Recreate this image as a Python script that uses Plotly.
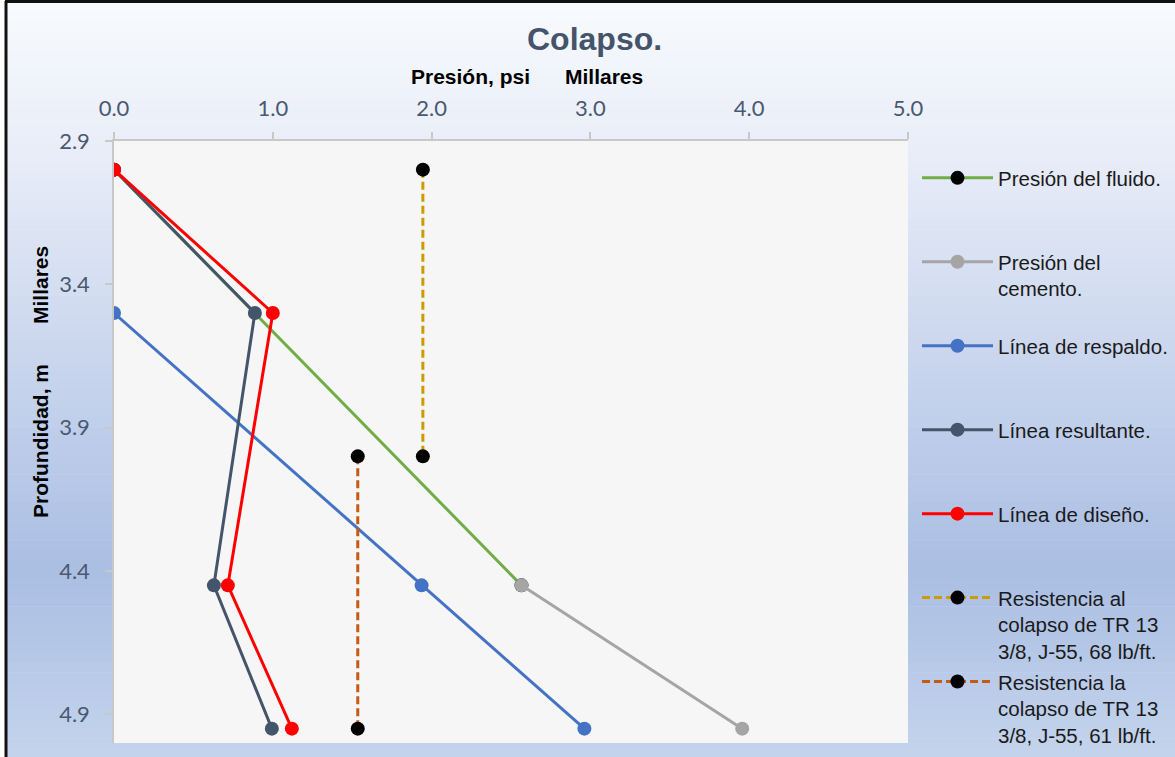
import numpy as np
import plotly.graph_objects as go

# ---- data (pressures in thousands psi, depths in thousands m) ----
fluido_x = [0.0, 2.566]
fluido_y = [3.0, 4.45]
cemento_x = [2.566, 3.956]
cemento_y = [4.45, 4.95]
respaldo_x = [0.0, 1.937, 2.962]
respaldo_y = [3.5, 4.45, 4.95]
resultante_x = [0.0, 0.887, 0.629, 0.994]
resultante_y = [3.0, 3.5, 4.45, 4.95]
diseno_x = [0.0, 1.0, 0.717, 1.12]
diseno_y = [3.0, 3.5, 4.45, 4.95]
res68_x = [1.945, 1.945]
res68_y = [3.0, 4.0]
res61_x = [1.535, 1.535]
res61_y = [4.0, 4.95]

names = [
    "Presión del fluido.",
    "Presión del<br>cemento.",
    "Línea de respaldo.",
    "Línea resultante.",
    "Línea de diseño.",
    "Resistencia al<br>colapso de TR 13<br>3/8, J-55, 68 lb/ft.",
    "Resistencia la<br>colapso de TR 13<br>3/8, J-55, 61 lb/ft.",
]

W, H = 1175, 757
L, R, T, B = 114, 908, 141, 743
pw, ph = R - L, B - T


def px(x):
    return (x - L) / pw


def py(y):
    return (B - y) / ph


def pad(n):
    k = n.count("<br>")
    return n + "<br>&nbsp;" * (2 - k)


fig = go.Figure()

series = [
    (fluido_x, fluido_y, "#70AD47", "#000000", "solid"),
    (cemento_x, cemento_y, "#A5A5A5", "#A5A5A5", "solid"),
    (respaldo_x, respaldo_y, "#4472C4", "#4472C4", "solid"),
    (resultante_x, resultante_y, "#44546A", "#44546A", "solid"),
    (diseno_x, diseno_y, "#FF0000", "#FF0000", "solid"),
    (res68_x, res68_y, "#CC9C00", "#000000", "8px,4px"),
    (res61_x, res61_y, "#C55A11", "#000000", "8px,4px"),
]
for i, (xs, ys, lc, mc, dash) in enumerate(series):
    fig.add_trace(go.Scatter(
        x=xs, y=ys, mode="lines+markers", name=pad(names[i]),
        legendgroup=f"g{i}",
        line=dict(color=lc, width=3, dash=dash),
        marker=dict(color=mc, size=14),
    ))

# background gradient bands
shapes = []
stops = [(0.0, (248, 250, 253)), (0.2, (232, 237, 248)), (0.75, (170, 190, 227)), (1.0, (196, 212, 236))]
n = 80
y0p, y1p = 3, H
for k in range(n):
    t = (k + 0.5) / n
    for j in range(len(stops) - 1):
        if stops[j][0] <= t <= stops[j + 1][0]:
            a, ca = stops[j]
            b, cb = stops[j + 1]
            f = (t - a) / (b - a)
            c = tuple(int(round(ca[m] + (cb[m] - ca[m]) * f)) for m in range(3))
            break
    ya = y0p + (y1p - y0p) * k / n
    yb = y0p + (y1p - y0p) * (k + 1) / n + 0.6
    shapes.append(dict(type="rect", xref="paper", yref="paper", layer="below",
                       x0=px(7), x1=px(W), y0=py(ya), y1=py(yb),
                       fillcolor=f"rgb{c}", line=dict(width=0)))
# plot area background
shapes.append(dict(type="rect", xref="paper", yref="paper", layer="below",
                   x0=0, x1=1, y0=0, y1=1, fillcolor="#F6F6F6", line=dict(width=0)))
# frame
shapes.append(dict(type="line", xref="paper", yref="paper", x0=px(6), x1=px(6),
                   y0=py(1), y1=py(H + 5), line=dict(color="#111111", width=3)))
shapes.append(dict(type="line", xref="paper", yref="paper", x0=px(5), x1=px(W + 5),
                   y0=py(1.5), y1=py(1.5), line=dict(color="#111111", width=3)))

ann_font = dict(family="Liberation Sans, Arial", size=21, color="#000000")
annotations = [
    dict(text="<b>Colapso.</b>", x=px(594), y=py(39), xref="paper", yref="paper",
         showarrow=False, xanchor="center", yanchor="middle",
         font=dict(family="Liberation Sans, Arial", size=32, color="#44546A")),
    dict(text="<b>Presión, psi</b>", x=px(470), y=py(77), xref="paper", yref="paper",
         showarrow=False, xanchor="center", yanchor="middle", font=ann_font),
    dict(text="<b>Millares</b>", x=px(604), y=py(77), xref="paper", yref="paper",
         showarrow=False, xanchor="center", yanchor="middle", font=ann_font),
    dict(text="<b>Profundidad, m</b>", x=px(40), y=py(441), xref="paper", yref="paper",
         showarrow=False, xanchor="center", yanchor="middle", textangle=-90, font=ann_font),
    dict(text="<b>Millares</b>", x=px(40), y=py(285), xref="paper", yref="paper",
         showarrow=False, xanchor="center", yanchor="middle", textangle=-90, font=ann_font),
]

tick_font = dict(family="Lato, Open Sans", size=22, color="#4A5870")
fig.update_layout(
    width=W, height=H,
    margin=dict(l=L, r=W - R, t=T, b=H - B, pad=0, autoexpand=False),
    paper_bgcolor="white", plot_bgcolor="rgba(0,0,0,0)",
    shapes=shapes, annotations=annotations,
    showlegend=True,
    legend=dict(x=px(917), y=py(158), xanchor="left", yanchor="top",
                traceorder="grouped", tracegroupgap=1, valign="top",
                itemwidth=71, bgcolor="rgba(0,0,0,0)", maxheight=745,
                font=dict(family="Liberation Sans, Arial", size=20.5, color="#1a1a1a")),
    xaxis=dict(side="top", range=[0, 5], dtick=1, tick0=0, tickformat=".1f",
               showgrid=False, zeroline=False, showline=True, linecolor="#C8C8C8",
               linewidth=1.5, ticks="outside", ticklen=7, tickcolor="#C8C8C8",
               tickwidth=1.5, ticklabelstandoff=7, tickfont=tick_font),
    yaxis=dict(range=[5.0, 2.9], dtick=0.5, tick0=2.9, tickformat=".1f",
               showgrid=False, zeroline=False, showline=True, linecolor="#C8C8C8",
               linewidth=1.5, ticks="outside", ticklen=7, tickcolor="#C8C8C8",
               tickwidth=1.5, ticklabelstandoff=11, tickfont=tick_font),
)

fig.write_html("out.html", config={"displayModeBar": False},
               post_script="document.body.style.margin='0px';")
